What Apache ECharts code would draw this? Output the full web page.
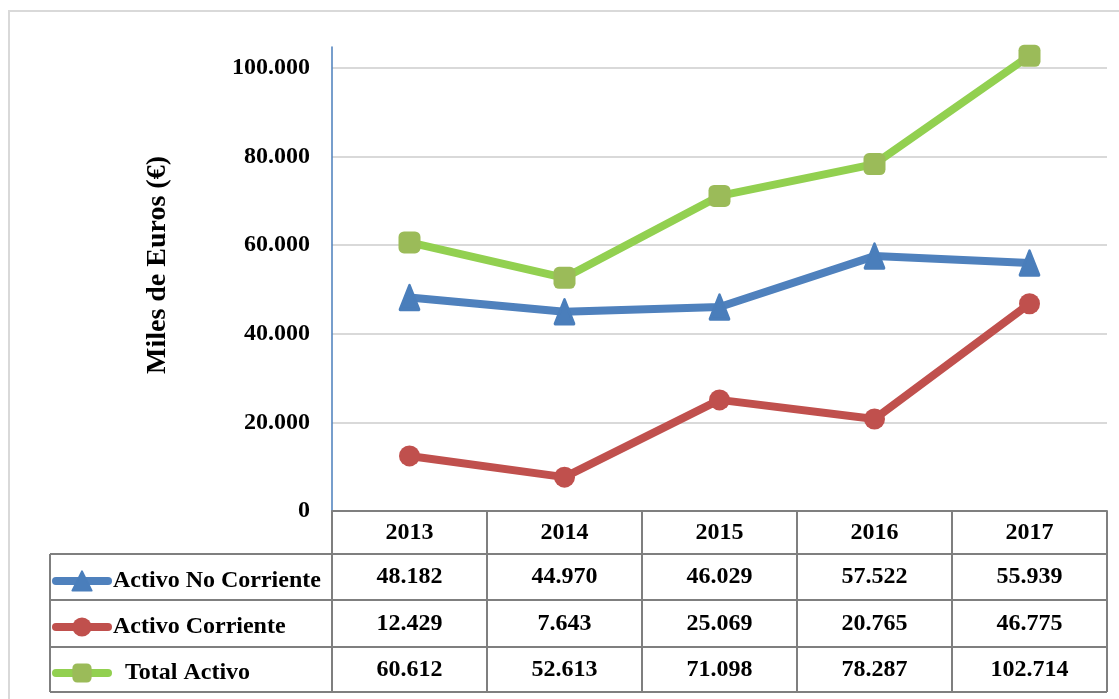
<!DOCTYPE html>
<html>
<head>
<meta charset="utf-8">
<script src="https://cdn.jsdelivr.net/npm/echarts@6/dist/echarts.min.js"></script>
<style>
html,body{margin:0;padding:0;background:#fff;}
#chart{width:1119px;height:699px;}
</style>
</head>
<body>
<div id="chart"></div>
<script>
const years = ['2013', '2014', '2015', '2016', '2017'];
const seriesNames = ['Activo No Corriente', 'Activo Corriente', 'Total Activo'];
const activoNoCorriente = [48182, 44970, 46029, 57522, 55939];
const activoCorriente = [12429, 7643, 25069, 20765, 46775];
const totalActivo = [60612, 52613, 71098, 78287, 102714];
const yAxisTitle = 'Miles de Euros (€)';
const yTickStep = 20000;
const yTop = 104700;

const FONT = '"Liberation Serif", "Times New Roman", serif';
const fmt = v => String(v).replace(/\B(?=(\d{3})+(?!\d))/g, '.');

const chart = echarts.init(document.getElementById('chart'), null, {renderer: 'canvas'});

const allSeries = [activoNoCorriente, activoCorriente, totalActivo];
const lineColors = ['#4f81bd', '#c0504d', '#92d050'];
const markerColors = ['#4a7ebb', '#c0504d', '#9bbb59'];
const symbols = ['triangle', 'circle', 'roundRect'];
const symbolSizes = [[19, 24], 21, 22];
const borderWidths = [3, 0, 0];

const option = {
  animation: false,
  backgroundColor: '#fff',
  grid: {left: 332, right: 12, top: 47, bottom: 188, containLabel: false},
  legend: {
    orient: 'vertical', left: 47, top: 564,
    itemWidth: 52, itemHeight: 24, itemGap: 22,
    selectedMode: false,
    lineStyle: {width: 8, cap: 'round'},
    formatter: n => n === 'Total Activo' ? '  ' + n : n,
    textStyle: {fontFamily: FONT, fontWeight: 'bold', fontSize: 24, lineHeight: 24, color: '#000'},
    data: seriesNames
  },
  xAxis: {
    type: 'category', data: years, boundaryGap: true,
    axisLine: {show: true, lineStyle: {color: '#7f7f7f', width: 2}},
    axisTick: {show: false},
    axisLabel: {fontFamily: FONT, fontWeight: 'bold', fontSize: 24, lineHeight: 24, color: '#000', margin: 10}
  },
  yAxis: {
    type: 'value', min: 0, max: yTop, interval: yTickStep,
    name: yAxisTitle, nameLocation: 'middle', nameRotate: 90, nameGap: 160,
    nameTextStyle: {fontFamily: FONT, fontWeight: 'bold', fontSize: 28, color: '#000', padding: [0, 0, 0, 28]},
    axisLine: {show: true, lineStyle: {color: '#4a7ebb', width: 1.5}},
    axisTick: {show: false},
    axisLabel: {
      fontFamily: FONT, fontWeight: 'bold', fontSize: 24, color: '#000', margin: 22,
      showMaxLabel: false,
      formatter: v => (v % yTickStep === 0 ? fmt(v) : '')
    },
    splitLine: {show: true, showMinLine: false, showMaxLine: false, lineStyle: {color: '#d9d9d9', width: 2}}
  },
  series: seriesNames.map((name, i) => ({
    name: name, type: 'line', data: allSeries[i],
    symbol: symbols[i], symbolSize: symbolSizes[i], showAllSymbol: true, clip: false,
    lineStyle: {color: lineColors[i], width: 8},
    itemStyle: {color: markerColors[i], borderColor: markerColors[i], borderWidth: borderWidths[i], borderJoin: 'round'},
    z: 3 + i
  }))
};
chart.setOption(option);

// Data table under the axis, positioned from the category scale
const cx = years.map(y => chart.convertToPixel({xAxisIndex: 0}, y));
const band = cx[1] - cx[0];
const leftX = cx[0] - band / 2;
const rightX = cx[cx.length - 1] + band / 2;
const headTop = chart.convertToPixel({yAxisIndex: 0}, 0);
const rowEdges = [554, 600, 647, 692];
const tableLeft = 50;
const lineCol = '#7f7f7f';
const g = [];
g.push({type: 'rect', silent: true, shape: {x: 9, y: 11, width: 1300, height: 900},
  style: {fill: 'none', stroke: '#d9d9d9', lineWidth: 2}, z: 0});
rowEdges.forEach(y => g.push({type: 'line', shape: {x1: tableLeft, y1: y, x2: rightX, y2: y},
  style: {stroke: lineCol, lineWidth: 2}, z: 10}));
g.push({type: 'line', shape: {x1: tableLeft, y1: rowEdges[0], x2: tableLeft, y2: rowEdges[3]},
  style: {stroke: lineCol, lineWidth: 2}, z: 10});
for (let k = 0; k <= years.length; k++) {
  const x = leftX + k * band;
  g.push({type: 'line', shape: {x1: x, y1: headTop, x2: x, y2: rowEdges[3]},
    style: {stroke: lineCol, lineWidth: 2}, z: 10});
}
allSeries.forEach((arr, r) => {
  const yc = (rowEdges[r] + rowEdges[r + 1]) / 2;
  arr.forEach((v, c) => g.push({type: 'text', x: cx[c], y: yc, z: 11,
    style: {text: fmt(v), fontFamily: FONT, fontWeight: 'bold', fontSize: 24,
      fill: '#000', align: 'center', verticalAlign: 'middle'}}));
});
chart.setOption({graphic: g});
</script>
</body>
</html>
